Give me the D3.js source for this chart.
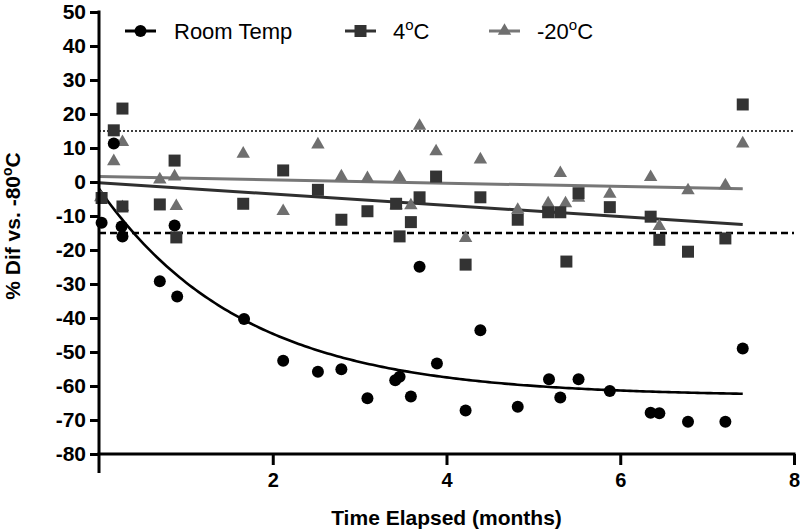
<!DOCTYPE html>
<html>
<head>
<meta charset="utf-8">
<script src="https://cdn.jsdelivr.net/npm/d3@7"></script>
<style>
  html, body { margin: 0; padding: 0; background: #fff; }
  svg { display: block; font-family: "Liberation Sans", Arial, sans-serif; }
</style>
</head>
<body>
<svg id="chart" width="800" height="531"></svg>
<script>
// ---- data ----
const seriesNames = ["Room Temp", "4", "-20"];

const roomX = [0.03,0.17,0.26,0.27,0.70,0.87,0.90,1.67,2.12,2.52,2.79,3.09,3.41,3.46,3.59,3.69,3.89,4.22,4.39,4.82,5.18,5.31,5.52,5.88,6.35,6.45,6.78,7.21,7.41];
const roomY = [-12,11.3,-13.1,-16,-29.2,-12.8,-33.7,-40.3,-52.6,-55.8,-55.1,-63.6,-58.3,-57.3,-63.1,-24.9,-53.4,-67.2,-43.6,-66.1,-58,-63.4,-58,-61.5,-67.9,-68,-70.5,-70.5,-49];

const fourX = [0.03,0.17,0.27,0.27,0.70,0.87,0.89,1.66,2.12,2.52,2.79,3.09,3.42,3.46,3.59,3.69,3.88,4.22,4.39,4.82,5.17,5.31,5.38,5.52,5.88,6.35,6.45,6.78,7.21,7.41];
const fourY = [-4.7,15.2,21.6,-7.2,-6.6,6.3,-16.3,-6.4,3.4,-2.3,-11.1,-8.6,-6.4,-16,-11.8,-4.5,1.6,-24.3,-4.5,-11.1,-8.9,-8.9,-23.4,-3.3,-7.4,-10.2,-17,-20.5,-16.6,22.8];

const m20X = [0.02,0.17,0.27,0.27,0.70,0.87,0.89,1.66,2.12,2.52,2.79,3.09,3.42,3.46,3.59,3.69,3.88,4.22,4.39,4.82,5.17,5.31,5.37,5.52,5.88,6.35,6.45,6.78,7.21,7.41];
const m20Y = [-4.5,6.1,11.7,-7.4,0.7,1.6,-7.1,8.3,-8.6,11,1.6,1.1,-6.9,1.4,-6.9,16.5,9,-16.5,6.6,-8.2,-6.3,2.6,-6.3,-4.7,-3.5,1.4,-13,-2.5,-1,11.3];

// fitted models
const roomFit = [-2, -63, 0.6];      // Y0, plateau, K  (one-phase decay)
const fourFit = [-0.2, -1.66];       // intercept, slope
const m20Fit = [1.6, -0.486];        // intercept, slope
const fitRange = [0, 7.41];

const refLines = [15, -15];
const xTicks = [2, 4, 6, 8];
const yTicks = [50,40,30,20,10,0,-10,-20,-30,-40,-50,-60,-70,-80];

// ---- drawing ----
const svg = d3.select("#chart");
const x = d3.scaleLinear().domain([0, 8]).range([99, 794]);
const y = d3.scaleLinear().domain([-80, 50]).range([454, 12]);

const cBlack = "#000000", cDark = "#333333", cGray = "#6f6f6f";
const fmt = d => String(d);

// reference lines
svg.append("line")
  .attr("x1", x(0)).attr("x2", x(8)).attr("y1", y(refLines[0])).attr("y2", y(refLines[0]))
  .attr("stroke", "#000").attr("stroke-width", 1.5).attr("stroke-dasharray", "2,2");
svg.append("line")
  .attr("x1", x(0)).attr("x2", x(8)).attr("y1", y(refLines[1])).attr("y2", y(refLines[1]))
  .attr("stroke", "#000").attr("stroke-width", 2.5).attr("stroke-dasharray", "7,4");

// fit curves
const samples = d3.range(0, 201).map(i => fitRange[0] + (fitRange[1] - fitRange[0]) * i / 200);
const line = d3.line().x(d => x(d[0])).y(d => y(d[1]));

svg.append("path")
  .datum(fitRange.map(t => [t, m20Fit[0] + m20Fit[1] * t]))
  .attr("d", line).attr("fill", "none").attr("stroke", "#777").attr("stroke-width", 3);
svg.append("path")
  .datum(fitRange.map(t => [t, fourFit[0] + fourFit[1] * t]))
  .attr("d", line).attr("fill", "none").attr("stroke", "#2f2f2f").attr("stroke-width", 3);
svg.append("path")
  .datum(samples.map(t => [t, roomFit[1] + (roomFit[0] - roomFit[1]) * Math.exp(-roomFit[2] * t)]))
  .attr("d", line).attr("fill", "none").attr("stroke", "#000").attr("stroke-width", 2.6);

// points
const sq = d3.symbol().type(d3.symbolSquare).size(144);
const tri = d3.symbol().type(d3.symbolTriangle).size(78);

svg.append("g").selectAll("path")
  .data(m20X.map((v, i) => [v, m20Y[i]]))
  .join("path")
  .attr("d", tri)
  .attr("transform", d => `translate(${x(d[0])},${y(d[1])})`)
  .attr("fill", cGray);

svg.append("g").selectAll("path")
  .data(fourX.map((v, i) => [v, fourY[i]]))
  .join("path")
  .attr("d", sq)
  .attr("transform", d => `translate(${x(d[0])},${y(d[1])})`)
  .attr("fill", cDark);

svg.append("g").selectAll("circle")
  .data(roomX.map((v, i) => [v, roomY[i]]))
  .join("circle")
  .attr("cx", d => x(d[0])).attr("cy", d => y(d[1])).attr("r", 6)
  .attr("fill", cBlack);

// axes
const yAxis = d3.axisLeft(y).tickValues(yTicks).tickSize(9).tickPadding(4).tickFormat(fmt);
const gy = svg.append("g").attr("transform", `translate(${x(0)},0)`).call(yAxis);
gy.select(".domain").remove();
gy.append("line").attr("x1", 0).attr("x2", 0).attr("y1", y(50) - 1.5).attr("y2", 473)
  .attr("stroke", "#000").attr("stroke-width", 3);
gy.selectAll(".tick line").attr("stroke", "#000").attr("stroke-width", 3);
gy.selectAll(".tick text").attr("font-size", 21).attr("font-weight", "bold")
  .attr("fill", "#000").attr("font-family", "'Liberation Sans', Arial, sans-serif");

const xAxis = d3.axisBottom(x).tickValues(xTicks).tickSize(11).tickPadding(8).tickFormat(fmt);
const gx = svg.append("g").attr("transform", `translate(0,${y(-80)})`).call(xAxis);
gx.select(".domain").remove();
gx.append("line").attr("x1", x(0) - 1.5).attr("x2", x(8) + 1.5).attr("y1", 0).attr("y2", 0)
  .attr("stroke", "#000").attr("stroke-width", 3);
gx.selectAll(".tick line").attr("stroke", "#000").attr("stroke-width", 3);
gx.selectAll(".tick text").attr("font-size", 20).attr("font-weight", "bold")
  .attr("fill", "#000").attr("font-family", "'Liberation Sans', Arial, sans-serif");

// axis titles
svg.append("text")
  .attr("x", (x(0) + x(8)) / 2).attr("y", 525)
  .attr("text-anchor", "middle").attr("font-size", 21).attr("font-weight", "bold")
  .text("Time Elapsed (months)");

const yt = svg.append("text")
  .attr("transform", "translate(20,226) rotate(-90)")
  .attr("text-anchor", "middle").attr("font-size", 21).attr("font-weight", "bold");
yt.append("tspan").text("% Dif vs. -80");
yt.append("tspan").attr("font-size", 14).attr("dy", -8).text("o");
yt.append("tspan").attr("dy", 8).text("C");

// legend
const legendItems = [
  { name: seriesNames[0], sup: false, x0: 125, tx: 174, color: cBlack, sym: "circle" },
  { name: seriesNames[1], sup: true, x0: 345, tx: 393, color: cDark, sym: "square" },
  { name: seriesNames[2], sup: true, x0: 489, tx: 537, color: "#777", sym: "triangle" }
];
const ly = 31;
legendItems.forEach(it => {
  svg.append("line").attr("x1", it.x0).attr("x2", it.x0 + 31).attr("y1", ly).attr("y2", ly)
    .attr("stroke", it.color).attr("stroke-width", 3);
  const cx = it.x0 + 15.5;
  if (it.sym === "circle") {
    svg.append("circle").attr("cx", cx).attr("cy", ly).attr("r", 6).attr("fill", cBlack);
  } else if (it.sym === "square") {
    svg.append("path").attr("d", sq).attr("transform", `translate(${cx},${ly})`).attr("fill", cDark);
  } else {
    svg.append("path").attr("d", tri).attr("transform", `translate(${cx},${ly})`).attr("fill", cGray);
  }
  const t = svg.append("text").attr("x", it.tx).attr("y", 38.5).attr("font-size", 22).attr("fill", "#000");
  t.append("tspan").text(it.name);
  if (it.sup) {
    t.append("tspan").attr("font-size", 15).attr("dy", -9).text("o");
    t.append("tspan").attr("dy", 9).text("C");
  }
});
</script>
</body>
</html>
